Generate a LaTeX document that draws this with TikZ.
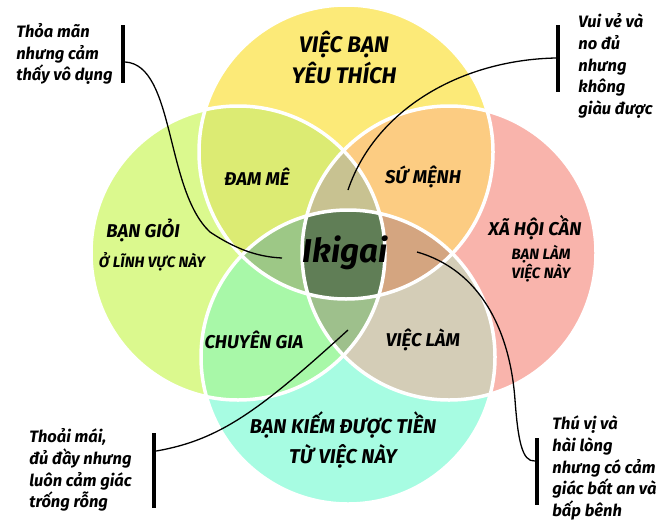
\documentclass[tikz,border=0pt]{standalone}
\usepackage{fontspec}                 % polices OpenType
\setmainfont{Fira Sans}
\usepackage{tikz}
\usetikzlibrary{positioning}          % placement relatif
\definecolor{cLove}{RGB}{252,234,120}
\definecolor{cGood}{RGB}{219,249,142}
\definecolor{cNeed}{RGB}{249,180,172}
\definecolor{cPaid}{RGB}{167,252,226}
\definecolor{cPassion}{RGB}{220,235,115}
\definecolor{cMission}{RGB}{252,204,130}
\definecolor{cProfession}{RGB}{168,248,168}
\definecolor{cVocation}{RGB}{212,205,183}
\definecolor{cAbove}{RGB}{200,194,145}
\definecolor{cBelow}{RGB}{158,192,140}
\definecolor{cLeftmid}{RGB}{157,200,134}
\definecolor{cRightmid}{RGB}{212,165,128}
\definecolor{cIkigai}{RGB}{96,126,86}
\def\rr{147pt}
\tikzset{
  ring/.style={draw=white,line width=3.5pt},
  zone/.style={font=\fontsize{18.5}{20}\selectfont\bfseries\itshape,inner sep=0pt},
  big/.style={font=\fontsize{20}{30}\selectfont\bfseries\itshape,align=center,inner sep=0pt},
  small/.style={font=\fontsize{15}{17}\selectfont\bfseries\itshape,align=center,inner sep=0pt},
  note/.style={font=\fontsize{16.5}{21.8}\selectfont\bfseries\itshape,align=left,inner sep=0pt},
  bar/.style={fill=black,inner sep=0pt,minimum width=4pt},
  link/.style={draw=black,line width=1.3pt}
}
\begin{document}
\begin{tikzpicture}[x=1pt,y=-1pt]
\useasboundingbox(0,0)rectangle(660,522);
\coordinate(love)at(346,152);
\coordinate(good)at(238,253);
\coordinate(need)at(449,253);
\coordinate(paid)at(348,357);
\fill[cLove](love)circle[radius=\rr];
\fill[cGood](good)circle[radius=\rr];
\fill[cNeed](need)circle[radius=\rr];
\fill[cPaid](paid)circle[radius=\rr];
\begin{scope}\clip(love)circle[radius=\rr];
\fill[cPassion](good)circle[radius=\rr];\fill[cMission](need)circle[radius=\rr];\end{scope}
\begin{scope}\clip(paid)circle[radius=\rr];
\fill[cProfession](good)circle[radius=\rr];\fill[cVocation](need)circle[radius=\rr];\end{scope}
\begin{scope}\clip(good)circle[radius=\rr];\clip(need)circle[radius=\rr];
\fill[cAbove](love)circle[radius=\rr];\fill[cBelow](paid)circle[radius=\rr];\end{scope}
\begin{scope}\clip(love)circle[radius=\rr];\clip(paid)circle[radius=\rr];
\fill[cLeftmid](good)circle[radius=\rr];\fill[cRightmid](need)circle[radius=\rr];\end{scope}
\begin{scope}\clip(love)circle[radius=\rr];\clip(paid)circle[radius=\rr];\clip(good)circle[radius=\rr];
\fill[cIkigai](need)circle[radius=\rr];\end{scope}
\foreach \c in {love,good,need,paid}\draw[ring](\c)circle[radius=\rr];
\node[big,font=\fontsize{22.5}{31}\selectfont\bfseries\itshape](lbLove)at(344,58){VIỆC BẠN\\YÊU THÍCH};
\node[big](lbPaid)at(343,440){BẠN KIẾM ĐƯỢC TIỀN\\TỪ VIỆC NÀY};
\node[zone](lbGood)at(143,230){BẠN GIỎI};
\node[small](lbGoodb)at(152,262){Ở LĨNH VỰC NÀY};
\node[zone](lbNeed)at(535,228){XÃ HỘI CẦN};
\node[small](lbNeedb)at(541,264){BẠN LÀM\\VIỆC NÀY};
\node[zone](passion)at(257,177){ĐAM MÊ};
\node[zone](mission)at(423,177){SỨ MỆNH};
\node[zone](profession)at(254,340){CHUYÊN GIA};
\node[zone](vocation)at(423,340){VIỆC LÀM};
\node[font=\fontsize{33}{40}\selectfont\bfseries\itshape,inner sep=0pt](ikigai)at(345,253){Ikigai};
\coordinate(tipTL)at(282,258);
\coordinate(tipTR)at(348,190);
\coordinate(tipBL)at(348,330);
\coordinate(tipBR)at(417,252);
\node[bar,minimum height=58pt](barTL)at(123,54){};
\node[note,left=8pt of barTL](noteTL){Thỏa mãn\\nhưng cảm\\thấy vô dụng};
\node[bar,minimum height=67pt](barTR)at(558,58){};
\node[note,right=18pt of barTR,yshift=-8pt](noteTR){Vui vẻ và\\no đủ\\nhưng\\không\\giàu được};
\node[bar,minimum height=75pt](barBL)at(154,470){};
\node[note,left=20pt of barBL](noteBL){Thoải mái,\\đủ đầy nhưng\\luôn cảm giác\\trống rỗng};
\node[bar,minimum height=67pt](barBR)at(537,471){};
\node[note,right=13pt of barBR,yshift=3pt](noteBR){Thú vị và\\hài lòng\\nhưng có cảm\\giác bất an và\\bấp bênh};
\draw[link]([yshift=-8pt]barTL.east)..controls(175,65)and(165,190)..(210,232)..controls(240,252)and(262,257)..(tipTL);
\draw[link](barTR.west)..controls(460,60)and(375,110)..(tipTR);
\draw[link]([yshift=19pt]barBL.east)..controls(220,440)and(260,410)..(tipBL);
\draw[link](tipBR)..controls(480,270)and(510,330)..(515,400)..controls(518,440)and(522,462)..([yshift=10pt]barBR.west);
\end{tikzpicture}
\end{document}
